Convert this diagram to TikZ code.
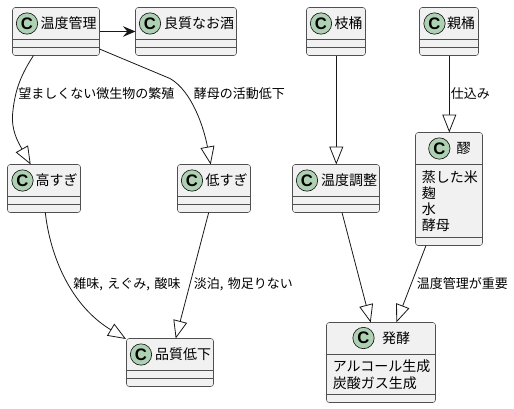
\documentclass[tikz,border=0pt]{standalone}
\usepackage{fontspec}
\setmainfont{Noto Sans CJK JP}
\newfontfamily\spotfont{Liberation Sans}
\usetikzlibrary{arrows.meta}
\usetikzlibrary{calc}
\definecolor{boxfill}{HTML}{F1F1F1}
\definecolor{boxline}{HTML}{505050}
\definecolor{linkline}{HTML}{181818}
\definecolor{spotfill}{HTML}{ADD1B2}
\tikzset{
  classbox/.style={draw=boxline,fill=boxfill,line width=0.4pt,rounded corners=2pt,inner sep=0pt,outer sep=0pt,anchor=north west},
  classline/.style={draw=boxline,line width=0.4pt},
  spot/.style={circle,draw=linkline,fill=spotfill,line width=0.5pt,minimum size=16pt,inner sep=0pt,font=\spotfont\bfseries\fontsize{12.5pt}{12.5pt}\selectfont},
  title/.style={inner sep=0pt,font=\fontsize{10.5pt}{12pt}\selectfont},
  field/.style={inner sep=0pt,anchor=west,font=\fontsize{10.5pt}{12pt}\selectfont},
  edgelabel/.style={inner sep=0pt,anchor=west,font=\fontsize{9.75pt}{12pt}\selectfont},
  link/.style={draw=linkline,line width=0.6pt},
  inherit/.style={link,-{Triangle[open,fill=white,length=13.5pt,width=10.5pt]}},
  flow/.style={link,-{Stealth[length=9.5pt,width=8pt,inset=3.5pt]}}
}
% name, left, top, width, height, first and second rule
\newcommand{\classbox}[7]{
  \node[classbox,minimum width=#4*0.75pt,minimum height=#5*0.75pt] (#1) at (#2,#3) {};
  \draw[classline] ($(#1.north west)+(0,#6)$) -- ($(#1.north east)+(0,#6)$);
  \draw[classline] ($(#1.north west)+(0,#7)$) -- ($(#1.north east)+(0,#7)$);
}
\begin{document}
\begin{tikzpicture}[x=0.75pt,y=-0.75pt]
\useasboundingbox (0,0) rectangle (514,408);
% boxes
\classbox{ondo}{12.5}{7.5}{87}{48}{32}{40}
\classbox{ryoshitsu}{135.5}{7.5}{101}{48}{32}{40}
\classbox{edaoke}{306.5}{7.5}{59}{48}{32}{40}
\classbox{oyaoke}{419.5}{7.5}{59}{48}{32}{40}
\classbox{moromi}{415.5}{132.5}{67}{113}{32}{105}
\classbox{takasugi}{7.5}{164.5}{73}{48}{32}{40}
\classbox{hikusugi}{177.5}{164.5}{73}{48}{32}{40}
\classbox{chosei}{292.5}{164.5}{87}{48}{32}{40}
\classbox{teika}{126.5}{338.5}{87}{48}{32}{40}
\classbox{hakko}{326.5}{322.5}{109}{80}{32}{72}
% spots
\node[spot] (ondoC) at (27,23.5) {C};
\node[spot] (ryoshitsuC) at (150,23.5) {C};
\node[spot] (edaokeC) at (321,23.5) {C};
\node[spot] (oyaokeC) at (434.5,23.5) {C};
\node[spot] (moromiC) at (439.3,148.5) {C};
\node[spot] (takasugiC) at (22.5,180.5) {C};
\node[spot] (hikusugiC) at (192,180.5) {C};
\node[spot] (choseiC) at (307,180.5) {C};
\node[spot] (teikaC) at (141,354.5) {C};
\node[spot] (hakkoC) at (363.5,338) {C};
% titles
\node[title] (ondoT) at (68.5,23.5) {温度管理};
\node[title] (ryoshitsuT) at (199,23.5) {良質なお酒};
\node[title] (edaokeT) at (348.7,23.5) {枝桶};
\node[title] (oyaokeT) at (461,23.5) {親桶};
\node[title] (moromiT) at (463.7,148.5) {醪};
\node[title] (takasugiT) at (56.7,180.5) {高すぎ};
\node[title] (hikusugiT) at (226.7,180.5) {低すぎ};
\node[title] (choseiT) at (349,180.5) {温度調整};
\node[title] (teikaT) at (183,354.5) {品質低下};
\node[title] (hakkoT) at (396,338) {発酵};
% fields
\node[field] (kome) at (421.5,177) {蒸した米};
\node[field] (koji) at (421.5,193) {麹};
\node[field] (mizu) at (421.5,209.5) {水};
\node[field] (kobo) at (421.5,225.5) {酵母};
\node[field] (alcohol) at (332.5,366) {アルコール生成};
\node[field] (tansan) at (332.5,383) {炭酸ガス生成};
% connectors
\draw[flow] ($(ondo.north east)+(0,24)$) -- ($(ryoshitsu.north west)+(0,24)$);
\draw[inherit] ($(ondo.south west)+(21,0)$) .. controls +(-11,17) and (15,88) .. (12.7,113) .. controls (11,130) and (18,142) .. ($(takasugi.north west)+(23.2,0)$);
\draw[inherit] ($(ondo.south east)+(0,-6.5)$) -- (170,78.5) .. controls (192,91) and (204,128) .. ($(hikusugi.north west)+(33.2,0)$);
\draw[inherit] ($(edaoke.south west)+(29.8,0)$) -- ($(chosei.north west)+(43.8,0)$);
\draw[inherit] ($(oyaoke.south west)+(29.8,0)$) -- ($(moromi.north west)+(33.8,0)$);
\draw[inherit] ($(takasugi.south west)+(37.8,0)$) .. controls (50,255) and (70,305) .. ($(teika.north west)+(-0.5,0.5)$);
\draw[inherit] ($(hikusugi.south west)+(31.2,0)$) -- ($(teika.north west)+(49.2,0)$);
\draw[inherit] ($(chosei.south west)+(49.5,0)$) -- ($(hakko.north west)+(44.2,0)$);
\draw[inherit] ($(moromi.south west)+(10.5,0)$) -- ($(hakko.north west)+(69.8,0)$);
% connector labels
\node[edgelabel] (nozomashiku) at (18,94) {望ましくない微生物の繁殖};
\node[edgelabel] (katsudo) at (193.5,94) {酵母の活動低下};
\node[edgelabel] (shikomi) at (450.5,94) {仕込み};
\node[edgelabel] (zatsumi) at (73,284) {雑味,\hspace{1.2pt} えぐみ,\hspace{1.2pt} 酸味};
\node[edgelabel] (tanpaku) at (193.5,284) {淡泊,\hspace{1.2pt} 物足りない};
\node[edgelabel] (juyo) at (416.5,283.5) {温度管理が重要};
\end{tikzpicture}
\end{document}
